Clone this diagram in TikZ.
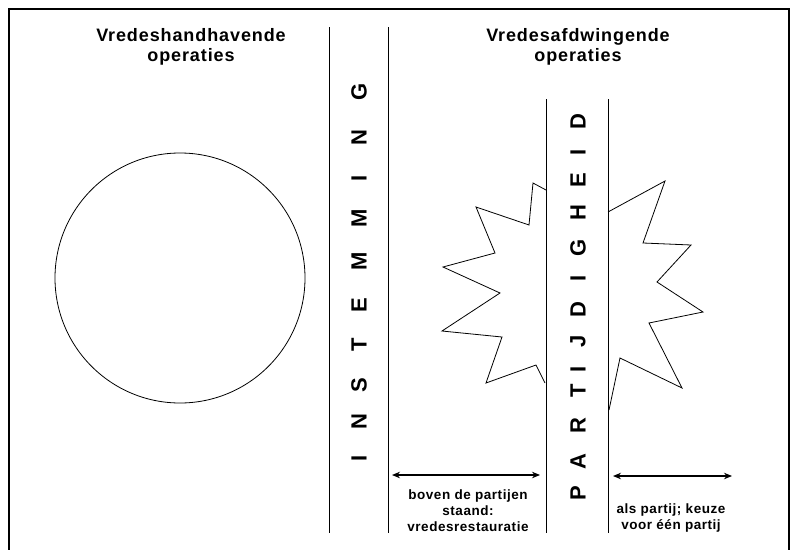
\documentclass[tikz,border=0pt]{standalone}
\usepackage{fontspec}
\setmainfont{Liberation Sans}
\newfontfamily\hdfont{Liberation Sans}[LetterSpace=5]
\newfontfamily\smfont{Liberation Sans}[LetterSpace=4]
\usetikzlibrary{arrows.meta}
\begin{document}
\begin{tikzpicture}[x=1pt,y=-1pt,
  ln/.style={line width=0.8pt},
  frame/.style={line width=1.2pt},
  head/.style={align=center,font=\hdfont\bfseries\fontsize{18}{20}\selectfont,inner sep=0pt},
  small/.style={align=center,font=\smfont\bfseries\fontsize{13.5}{16}\selectfont,inner sep=0pt},
  vlet/.style={rotate=90,font=\bfseries\fontsize{22}{22}\selectfont,inner sep=0pt},
  dbl/.style={line width=1.1pt,{Stealth[length=8pt,width=6.5pt]}-{Stealth[length=8pt,width=6.5pt]}}]
\useasboundingbox (0,0) rectangle (790,549);
% frame
\coordinate (fbl) at (9,560);
\coordinate (ftl) at (9,9);
\coordinate (ftr) at (789,9);
\coordinate (fbr) at (789,560);
\draw[frame] (fbl) -- (ftl) -- (ftr) -- (fbr);
% vertical band lines
\coordinate (a1) at (329,27); \coordinate (a2) at (329,533);
\coordinate (b1) at (388,27); \coordinate (b2) at (388,533);
\coordinate (c1) at (546,99); \coordinate (c2) at (546,533);
\coordinate (d1) at (608,99); \coordinate (d2) at (608,533);
\draw[ln] (a1) -- (a2);
\draw[ln] (b1) -- (b2);
\draw[ln] (c1) -- (c2);
\draw[ln] (d1) -- (d2);
% headings
\node[head] (h1) at (191,47) {Vredeshandhavende\\operaties};
\node[head] (h2) at (578,47) {Vredesafdwingende\\operaties};
% circle
\node[draw,ln,circle,minimum size=250pt,inner sep=0pt] (circ) at (180,278) {};
% star pieces
\draw[ln] (546,190) -- (533,183) -- (529,225) -- (476,207) -- (495,253) -- (443,267) -- (500,293) -- (442,331) -- (502,337) -- (486,383) -- (536,365) -- (545,383);
\draw[ln] (608,212) -- (665,181) -- (643,243) -- (691,245) -- (657,282) -- (703,312) -- (649,323) -- (682,388) -- (620,358) -- (609,410);
% INSTEMMING
\foreach \l/\y [count=\i] in {I/458,N/422,S/385,T/345,E/305,M/261,M/218,I/178,N/138,G/92}
  \node[vlet] (ins\i) at (359,\y) {\l};
% PARTIJDIGHEID
\foreach \l/\y [count=\i] in {P/493,A/462,R/426,T/391,I/369,J/341,D/310,I/278,G/248,H/213,E/180,I/152,D/122}
  \node[vlet] (par\i) at (578,\y) {\l};
% arrows
\coordinate (la) at (392,475); \coordinate (lb) at (540,475);
\coordinate (ra) at (613,476); \coordinate (rb) at (732,476);
\draw[dbl] (la) -- (lb);
\draw[dbl] (ra) -- (rb);
% bottom texts
\node[small] (t1) at (468,511) {boven de partijen\\staand:\\vredesrestauratie};
\node[small] (t2) at (671,518) {als partij; keuze\\voor één partij};
\end{tikzpicture}
\end{document}
